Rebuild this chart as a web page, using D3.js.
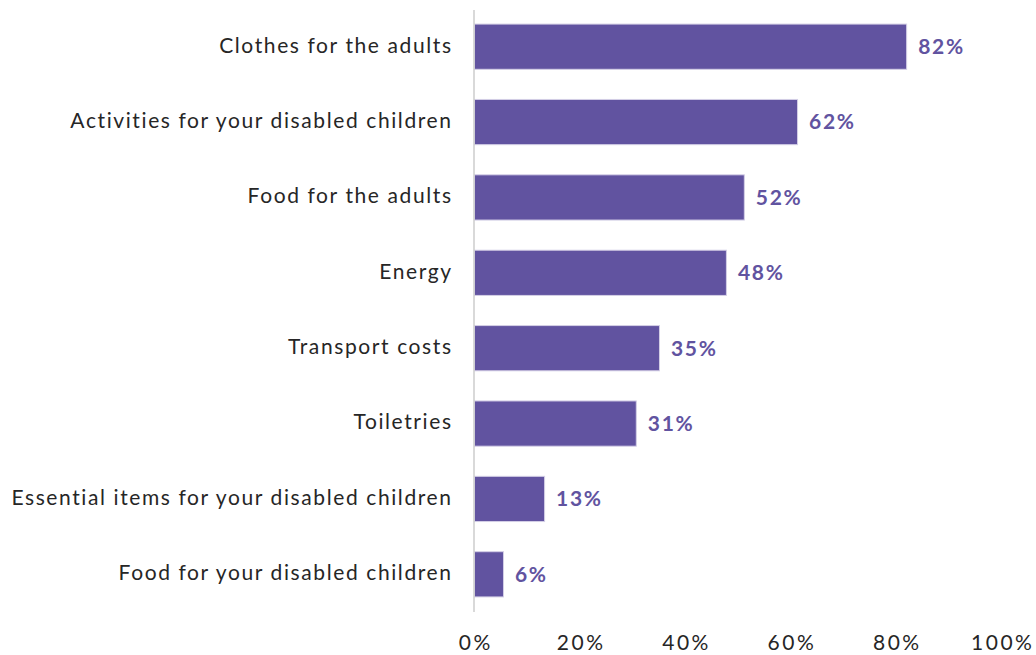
<!DOCTYPE html>
<html><head><meta charset="utf-8">
<script src="https://cdn.jsdelivr.net/npm/d3@7"></script>
<style>body{margin:0;background:#fff;} text{font-family:Lato,"Noto Sans",sans-serif;}</style>
</head><body>
<svg id="c" width="1036" height="655"></svg>
<script>
const categories = ["Clothes for the adults","Activities for your disabled children","Food for the adults","Energy","Transport costs","Toiletries","Essential items for your disabled children","Food for your disabled children"];
const values = [82,61.3,51.2,47.8,35.1,30.7,13.3,5.5];
const labels = ["82%","62%","52%","48%","35%","31%","13%","6%"];
const ticks = [0,20,40,60,80,100];

const svg = d3.select("#c");
const x = d3.scaleLinear().domain([0,100]).range([474,1001]);
const y = d3.scaleBand().domain(categories).range([9,612]).paddingInner(0.4).paddingOuter(0.2);
const color = "#6153a0";

svg.append("g").selectAll("rect").data(values).join("rect")
  .attr("x", x(0)+0.5).attr("y",(d,i)=>y(categories[i]))
  .attr("width", d=>x(d)-x(0)).attr("height", y.bandwidth())
  .attr("fill", color).attr("stroke","#d4cfe6").attr("stroke-width",1);

svg.append("line").attr("x1",x(0)).attr("x2",x(0)).attr("y1",10).attr("y2",612)
  .attr("stroke","#cccccc").attr("stroke-width",1.5);

svg.append("g").selectAll("text").data(values).join("text")
  .attr("x", d=>x(d)+12).attr("y",(d,i)=>y(categories[i])+y.bandwidth()/2)
  .attr("dy","0.35em").attr("fill",color).attr("font-weight","bold").attr("font-size",21)
  .attr("letter-spacing","1.7px")
  .text((d,i)=>labels[i]);

svg.append("g").selectAll("text").data(categories).join("text")
  .attr("x", 452.6).attr("y", d=>y(d)+y.bandwidth()/2 - 1.5).attr("dy","0.35em")
  .attr("text-anchor","end").attr("font-size",21).attr("fill","#262626")
  .attr("letter-spacing","1.6px")
  .text(d=>d);

const xAxis = svg.append("g").attr("transform","translate(0,643)")
  .call(d3.axisBottom(x).tickValues(ticks).tickFormat(d=>d+"%").tickSize(0));
xAxis.select(".domain").remove();
xAxis.selectAll("text").attr("font-size",21).attr("fill","#262626")
  .attr("font-family","Lato,sans-serif").attr("letter-spacing","2.5px")
  .attr("dx","1.25px").attr("dy","0.35em").attr("y",0);
</script>
</body></html>
